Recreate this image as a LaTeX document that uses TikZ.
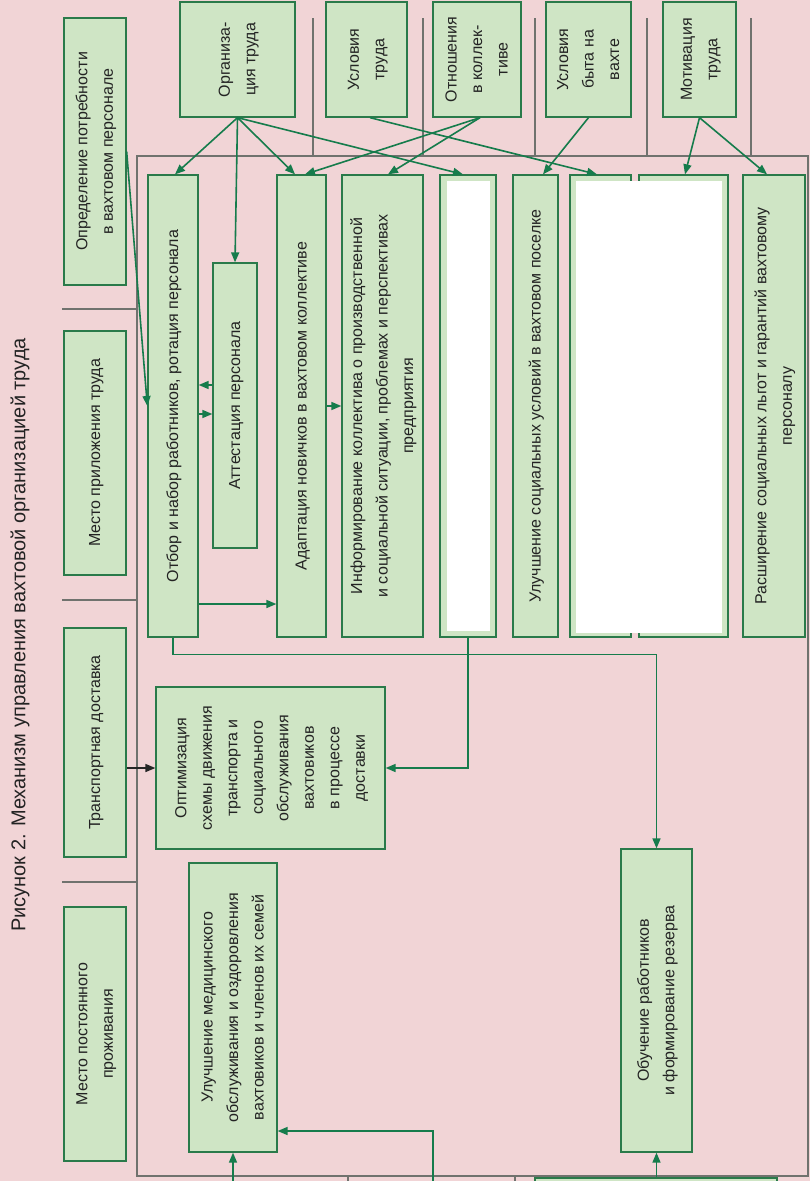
\documentclass[tikz,border=0pt]{standalone}
\usepackage{fontspec}
\setmainfont{Liberation Sans}
\usepackage{graphicx}
\usetikzlibrary{arrows.meta,calc}
\definecolor{bgpink}{RGB}{241,212,214}
\definecolor{boxfill}{RGB}{207,229,197}
\definecolor{boxline}{RGB}{42,122,74}
\definecolor{arrgreen}{RGB}{22,124,76}
\definecolor{framegray}{RGB}{112,114,110}
\definecolor{txt}{RGB}{35,35,35}
\newcommand{\rt}[1]{\rotatebox{90}{\begin{tabular}{@{}c@{}}#1\end{tabular}}}
\begin{document}
\begin{tikzpicture}[x=1pt,y=-1pt,
 box/.style={draw=boxline, fill=boxfill, line width=1.3pt, inner sep=0pt, text=txt, font=\fontsize{16}{25.5}\selectfont},
 arr/.style={draw=arrgreen, line width=1.6pt, -{Triangle[length=10pt,width=8pt]}},
 darr/.style={draw=black!85, line width=1.6pt, -{Triangle[length=10pt,width=8pt]}},
 frameline/.style={draw=framegray, line width=1.3pt},
 whitefill/.style={fill=white, draw=none}
]
\useasboundingbox (0,0) rectangle (810,1181);
\clip (0,0) rectangle (810,1181);
\fill[bgpink] (0,0) rectangle (810,1181);

% title
\node[rotate=90, font=\fontsize{20}{24}\selectfont, text=txt] (title) at (20,635) {Рисунок 2. Механизм управления вахтовой организацией труда};

% frame and separators
\draw[frameline] (137,156) rectangle (808,1176);
\foreach \xx in {313,423,535,647,751} \draw[frameline] (\xx,18) -- (\xx,156);
\foreach \yy in {309,600,882} \draw[frameline] (62,\yy) -- (137,\yy);
\draw[frameline] (348,1176) -- (348,1181);
\draw[frameline] (515,1176) -- (515,1181);

% left column
\node[box, minimum width=62pt, minimum height=267pt] (A) at (95,151.5) {\rt{Определение потребности\\в вахтовом персонале}};
\node[box, minimum width=62pt, minimum height=244pt] (B) at (95,453) {\rt{Место приложения труда}};
\node[box, minimum width=62pt, minimum height=229pt] (C) at (95,742.5) {\rt{Транспортная доставка}};
\node[box, minimum width=62pt, minimum height=254pt] (D) at (95,1034) {\rt{Место постоянного\\проживания}};

% top row
\node[box, minimum width=115pt, minimum height=115pt] (T1) at (237.5,59.5) {\rt{Организа-\\ция труда}};
\node[box, minimum width=81pt, minimum height=115pt] (T2) at (366.5,59.5) {\rt{Условия\\труда}};
\node[box, minimum width=88pt, minimum height=115pt] (T3) at (477,59.5) {\rt{Отношения\\в коллек-\\тиве}};
\node[box, minimum width=85pt, minimum height=115pt] (T4) at (588.5,59.5) {\rt{Условия\\быта на\\вахте}};
\node[box, minimum width=73pt, minimum height=115pt] (T5) at (699.5,59.5) {\rt{Мотивация\\труда}};

% inner row
\node[box, minimum width=50pt, minimum height=462pt] (R1) at (173,406) {\rt{Отбор и набор работников, ротация персонала}};
\node[box, minimum width=44pt, minimum height=285pt] (R2) at (235,405.5) {\rt{Аттестация персонала}};
\node[box, minimum width=49pt, minimum height=462pt] (R3) at (301.5,406) {\rt{Адаптация новичков в вахтовом коллективе}};
\node[box, minimum width=81pt, minimum height=462pt] (R4) at (382.5,406) {\rt{Информирование коллектива о производственной\\и социальной ситуации, проблемах и перспективах\\предприятия}};
\node[box, minimum width=56pt, minimum height=462pt] (R5) at (468,406) {};
\node[box, minimum width=45pt, minimum height=462pt] (R6) at (535.5,406) {\rt{Улучшение социальных условий в вахтовом поселке}};
\node[box, minimum width=61pt, minimum height=462pt] (R7) at (600.5,406) {};
\node[box, minimum width=89pt, minimum height=462pt] (R8) at (683.5,406) {};
\node[box, minimum width=62pt, minimum height=462pt] (R9) at (774,406) {\rt{Расширение социальных льгот и гарантий вахтовому\\персоналу}};
\fill[white] (447,181) rectangle (490,631);
\fill[white] (576,181) rectangle (722,633);

% lower boxes
\node[box, minimum width=229pt, minimum height=162pt] (O) at (270.5,768) {\rt{Оптимизация\\схемы движения\\транспорта и\\социального\\обслуживания\\вахтовиков\\в процессе\\доставки}};
\node[box, minimum width=88pt, minimum height=289pt] (M) at (233,1007.5) {\rt{Улучшение медицинского\\обслуживания и оздоровления\\вахтовиков и членов их семей}};
\node[box, minimum width=71pt, minimum height=303pt] (L) at (656.5,1000.5) {\rt{Обучение работников\\и формирование резерва}};
\node[box, minimum width=242pt, minimum height=34pt] (P) at (656,1195) {};

% arrows from top row
\draw[arr] (T1.south) -- ([xshift=2pt]R1.north);
\draw[arr] (T1.south) -- (R2.north);
\draw[arr] (T1.south) -- ([xshift=-6.5pt]R3.north);
\draw[arr] (T1.south) -- ([xshift=-5pt]R5.north);
\draw[arr] ([xshift=3.5pt]T2.south) -- ([xshift=-3.5pt]R7.north);
\draw[arr] ([xshift=3pt]T3.south) -- ([xshift=3.5pt]R3.north);
\draw[arr] ([xshift=3pt]T3.south) -- ([xshift=5.5pt]R4.north);
\draw[arr] (T4.south) -- ([xshift=7.5pt]R6.north);
\draw[arr] (T5.south) -- ([xshift=1.5pt]R8.north);
\draw[arr] (T5.south) -- ([xshift=-7pt]R9.north);

% other arrows
\draw[arr] (A.east) -- (R1.west);
\draw[arr] ([yshift=20.5pt]R2.west) -- ([yshift=20.5pt]R2.west -| R1.east);
\draw[arr] ([yshift=-8pt]R1.east) -- ([yshift=-8pt]R1.east -| R2.west);
\draw[arr] (R3.east) -- (R4.west);
\draw[arr] ([yshift=-198pt]R1.east) -- ([yshift=-198pt]R1.east -| R3.west);
\draw[arr] (R1.south) -- ++(0,17) -| (L.north);
\draw[arr] (R5.south) |- (O.east);
\draw[darr] (C.east |- O.west) -- (O.west);

% arrows from below
\coordinate (b1) at (233,1181);
\coordinate (b2) at (433,1181);
\draw[arr] (b1) -- (M.south);
\draw[arr] (b2) |- ([yshift=-123.5pt]M.east);
\draw[arr] (P.north -| L.south) -- (L.south);
\end{tikzpicture}
\end{document}
